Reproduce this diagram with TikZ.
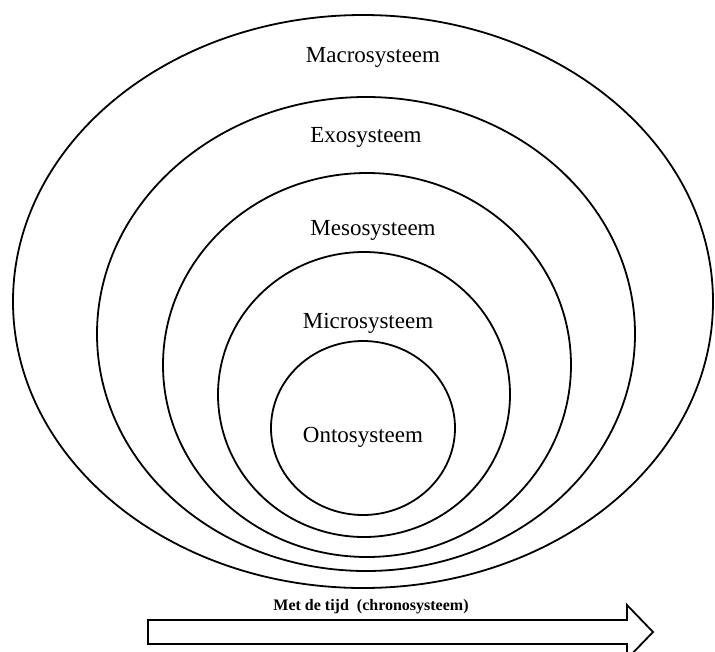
\documentclass[tikz,border=0pt]{standalone}
\usepackage{fontspec}
\setmainfont{Liberation Serif}

\begin{document}
\begin{tikzpicture}[
        x=1pt, y=-1pt,
        % --- styles ---
        ring/.style={draw=black, line width=1.8pt},
        lbl/.style={font=\fontsize{23}{26}\selectfont, inner sep=0pt},
        tijd/.style={font=\fontsize{16}{19}\selectfont\bfseries, inner sep=0pt},
        pijl/.style={draw=black, line width=1.8pt, fill=white, line join=miter}
        % --------------
    ]
    \useasboundingbox (0,0) rectangle (715,651);

    % systemen, van buiten naar binnen
    \draw[ring] (363,301.5) ellipse [x radius=350, y radius=286.5];
    \draw[ring] (366,334) ellipse [x radius=269, y radius=237];
    \draw[ring] (367,365) ellipse [x radius=204, y radius=192];
    \draw[ring] (364,394.5) ellipse [x radius=146, y radius=142.5];
    \draw[ring] (363,428) ellipse [x radius=92, y radius=87];

    % labels
    \node[lbl] (macro) at (373,57)  {Macrosysteem};
    \node[lbl] (exo)   at (366,137) {Exosysteem};
    \node[lbl] (meso)  at (373,230) {Mesosysteem};
    \node[lbl] (micro) at (368,323) {Microsysteem};
    \node[lbl] (onto)  at (363,437) {Ontosysteem};

    % tijdpijl
    \draw[pijl] (148,620) -- (627,620) -- (627,605) -- (653,632)
        -- (627,659) -- (627,644) -- (148,644) -- cycle;
    \node[tijd] (chrono) at (371,607) {Met de tijd\ \ (chronosysteem)};
\end{tikzpicture}
\end{document}
